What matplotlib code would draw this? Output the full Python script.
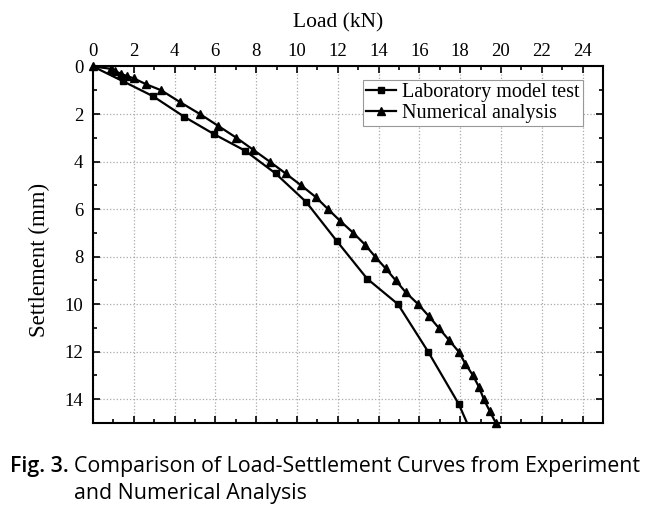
import numpy as np
import matplotlib
matplotlib.use("Agg")
import matplotlib.pyplot as plt
from matplotlib.ticker import MultipleLocator

# Laboratory model test (load kN, settlement mm)
lab_load = [0, 1.47, 2.94, 4.48, 5.94, 7.47, 8.95, 10.45, 11.94, 13.44, 14.95, 16.43, 17.93, 18.85]
lab_settle = [0, 0.62, 1.25, 2.12, 2.85, 3.55, 4.5, 5.7, 7.33, 8.93, 10.0, 12.0, 14.2, 16.0]

# Numerical analysis
num_load = [0, 0.9, 1.1, 1.35, 1.65, 2.0, 2.61, 3.34, 4.27, 5.24, 6.14, 7.03, 7.85, 8.66,
            9.44, 10.2, 10.93, 11.52, 12.12, 12.76, 13.34, 13.83, 14.35, 14.84, 15.33,
            15.94, 16.46, 16.95, 17.44, 17.93, 18.25, 18.63, 18.93, 19.16, 19.45, 19.75]
num_settle = [0, 0.1, 0.2, 0.3, 0.4, 0.5, 0.75, 1.0, 1.5, 2.0, 2.5, 3.0, 3.5, 4.0,
              4.5, 5.0, 5.5, 6.0, 6.5, 7.0, 7.5, 8.0, 8.5, 9.0, 9.5,
              10.0, 10.5, 11.0, 11.5, 12.0, 12.5, 13.0, 13.5, 14.0, 14.5, 15.0]

x_ticks = np.arange(0, 25, 2)

plt.rcParams['font.family'] = ['Liberation Serif', 'DejaVu Serif']

fig = plt.figure(figsize=(6.58, 5.09), dpi=100)
ax = fig.add_axes([0.1413, 0.169, 0.775, 0.7004])

ax.plot(lab_load, lab_settle, color='black', lw=1.6, marker='s', ms=5,
        label='Laboratory model test')
ax.plot(num_load, num_settle, color='black', lw=1.6, marker='^', ms=5.5,
        label='Numerical analysis', clip_on=False)

ax.set_xlim(0, 25)
ax.set_ylim(15, 0)
ax.set_xticks(x_ticks)
ax.set_xticks(np.arange(1, 24, 2), minor=True)
ax.yaxis.set_major_locator(MultipleLocator(2))
ax.yaxis.set_minor_locator(MultipleLocator(1))
ax.xaxis.tick_top()
ax.xaxis.set_label_position('top')
ax.tick_params(which='both', direction='in', top=True, bottom=True, left=True, right=True,
               labelsize=13.5, width=1.2)
ax.tick_params(which='major', length=5)
ax.tick_params(which='minor', length=3)
ax.tick_params(axis='y', which='major', pad=7)
ax.tick_params(axis='x', which='major', pad=4.5)
ax.grid(True, which='major', linestyle=':', color='#aaaaaa', lw=0.9)
for s in ax.spines.values():
    s.set_linewidth(1.5)

ax.set_xlabel('Load (kN)', fontsize=15.5)
ax.xaxis.set_label_coords(12 / 25, 1.11)
ax.set_ylabel('Settlement (mm)', fontsize=16.5)
ax.yaxis.set_label_coords(-0.085, 0.457)

leg = ax.legend(loc='upper right', bbox_to_anchor=(0.96, 0.962), borderaxespad=0,
                fontsize=14.5, fancybox=False, framealpha=1, edgecolor='#999999',
                handlelength=1.5, borderpad=0.15, labelspacing=0.1, handletextpad=0.3)
leg.get_frame().set_linewidth(0.8)

cap = dict(fontsize=15.4, family='Open Sans', va='baseline')
fig.text(10 / 658, 1 - 472 / 509, 'Fig. 3.', fontweight='semibold', **cap)
fig.text(74 / 658, 1 - 472 / 509, 'Comparison of Load-Settlement Curves from Experiment', **cap)
fig.text(74 / 658, 1 - 499 / 509, 'and Numerical Analysis', **cap)

fig.savefig('out.png', dpi=100)
